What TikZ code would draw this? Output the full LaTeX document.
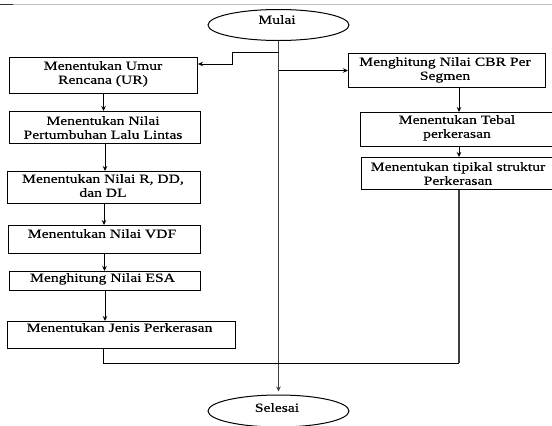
\documentclass[tikz,border=0pt]{standalone}
\usepackage{fontspec}
\setmainfont[FakeStretch=1.25,FakeBold=0.35]{Liberation Serif}
\usetikzlibrary{shapes.geometric,arrows.meta}
\begin{document}
\begin{tikzpicture}[x=1pt,y=-1pt,
  box/.style={draw, line width=1pt, rectangle, inner sep=0pt, anchor=north west},
  txt/.style={font=\fontsize{12.5}{14}\selectfont, align=center, inner sep=0pt, anchor=north},
  arr/.style={-{Stealth[length=5pt,width=4.5pt]}, line width=1pt},
  ln/.style={line width=1pt},
  mainln/.style={line width=1.2pt, black!75},
  oval/.style={draw, ellipse, line width=1pt, inner sep=0pt, font=\fontsize{12.5}{14}\selectfont}]
\useasboundingbox (0,0) rectangle (552,426);
\clip (0,0) rectangle (552,426);
% page edge line
\draw[gray!50, line width=0.8pt] (13,4.5) -- (552,4.5);
\draw[black!80, line width=0.8pt] (0,4.5) -- (13,4.5);
% terminals
\node[oval, minimum width=141pt, minimum height=31pt] (mulai) at (278.5,25) {};
\node[txt] (tmulai) at (277,15) {Mulai};
\node[oval, minimum width=141pt, minimum height=32pt] (selesai) at (278.5,411) {};
\node[txt] (tselesai) at (277,403) {Selesai};
% left column
\node[box, minimum width=188pt, minimum height=36pt] (ur) at (9,57) {};
\node[txt] (tur) at (103,61) {Menentukan Umur\\Rencana (UR)};
\node[box, minimum width=191pt, minimum height=32pt] (pert) at (9,111) {};
\node[txt] (tpert) at (103,116) {Menentukan Nilai\\Pertumbuhan Lalu Lintas};
\node[box, minimum width=193pt, minimum height=32pt] (rdd) at (7,171) {};
\node[txt] (trdd) at (103,174) {Menentukan Nilai R, DD,\\dan DL};
\node[box, minimum width=192pt, minimum height=28pt] (vdf) at (8,225) {};
\node[txt] (tvdf) at (102,229) {Menentukan Nilai VDF};
\node[box, minimum width=191pt, minimum height=19pt] (esa) at (9,271) {};
\node[txt] (tesa) at (102.5,273) {Menghitung Nilai ESA};
\node[box, minimum width=228pt, minimum height=27pt] (jenis) at (7,321) {};
\node[txt] (tjenis) at (119.5,323) {Menentukan Jenis Perkerasan};
% right column
\node[box, minimum width=197pt, minimum height=34pt] (cbr) at (348,53) {};
\node[txt] (tcbr) at (445,57) {Menghitung Nilai CBR Per\\Segmen};
\node[box, minimum width=200pt, minimum height=34pt] (tebal) at (360,112) {};
\node[txt] (ttebal) at (457,115) {Menentukan Tebal\\perkerasan};
\node[box, minimum width=200pt, minimum height=32pt] (tipikal) at (361,157) {};
\node[txt] (ttipikal) at (458,162) {Menentukan tipikal struktur\\Perkerasan};
% helper coordinates
\coordinate (b1) at (232,52);
\coordinate (b2) at (232,64);
\coordinate (rx) at (459,0);
\coordinate (jx) at (103,0);
\coordinate (bl) at (0,363);
% connectors
\draw[mainln, -{Stealth[length=5pt,width=4.5pt]}] (mulai.south) -- ([yshift=3pt]selesai.north);
\draw[arr] (mulai.south |- b1) -- (b1) -- (b2) -- (b2 -| ur.east);
\draw[arr] (mulai.south |- cbr.west) -- (cbr.west);
\draw[arr] (rx |- cbr.south) -- (rx |- tebal.north);
\draw[arr] (rx |- tebal.south) -- (rx |- tipikal.north);
\draw[arr] (ur.south) -- (ur.south |- pert.north);
\draw[arr] (pert.south) -- (pert.south |- rdd.north);
\draw[arr] (rdd.south) -- (rdd.south |- vdf.north);
\draw[arr] (vdf.south) -- (vdf.south |- esa.north);
\draw[arr] (esa.south) -- (esa.south |- jenis.north);
\draw[ln] (jx |- jenis.south) -- (jx |- bl) -- (rx |- bl);
\draw[mainln] (rx |- bl) -- (rx |- tipikal.south);
\end{tikzpicture}
\end{document}
